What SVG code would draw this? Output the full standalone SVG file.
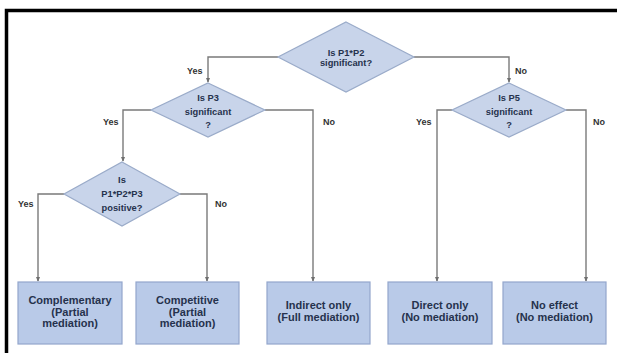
<svg xmlns="http://www.w3.org/2000/svg" width="617" height="353" viewBox="0 0 617 353">
  <defs>
    <marker id="arrow" viewBox="0 0 8 8" refX="7" refY="4" markerWidth="5" markerHeight="5" orient="auto" markerUnits="userSpaceOnUse">
      <path d="M0,0.5 L8,4 L0,7.5 Z" fill="#6f6f6f"/>
    </marker>
    <style>
      .frame { stroke: #000; stroke-width: 3.5; fill: none; }
      .decision { fill: #c8d4ea; stroke: #9aabc9; stroke-width: 1.2; }
      .outcome { fill: #b9cae8; stroke: #93a6cc; stroke-width: 1.2; }
      .link { fill: none; stroke: #7a7a7a; stroke-width: 1.4; }
      .dtext { font-family: "Liberation Sans", Arial, sans-serif; font-weight: bold; font-size: 9.3px; fill: #26324d; text-anchor: middle; }
      .btext { font-family: "Liberation Sans", Arial, sans-serif; font-weight: bold; font-size: 11px; fill: #26324d; text-anchor: middle; }
      .label { font-family: "Liberation Sans", Arial, sans-serif; font-weight: bold; font-size: 9px; fill: #333; }
    </style>
  </defs>

  <rect width="617" height="353" fill="#fff"/>
  <!-- frame edges (top and left) -->
  <path class="frame" d="M6.5,353 V10.5 H617"/>

  <!-- connectors -->
  <g id="connectors">
    <path class="link" d="M278,57 H208 V82" marker-end="url(#arrow)"/>
    <path class="link" d="M414,57 H509 V82" marker-end="url(#arrow)"/>
    <path class="link" d="M151,110 H123 V161" marker-end="url(#arrow)"/>
    <path class="link" d="M265,110 H313 V281" marker-end="url(#arrow)"/>
    <path class="link" d="M64,194 H38 V281" marker-end="url(#arrow)"/>
    <path class="link" d="M180,194 H207 V281" marker-end="url(#arrow)"/>
    <path class="link" d="M452,110 H437 V281" marker-end="url(#arrow)"/>
    <path class="link" d="M566,110 H586 V281" marker-end="url(#arrow)"/>
    <text class="label" x="187" y="74">Yes</text>
    <text class="label" x="515" y="74">No</text>
    <text class="label" x="103" y="125">Yes</text>
    <text class="label" x="323" y="125">No</text>
    <text class="label" x="18" y="207">Yes</text>
    <text class="label" x="215" y="207">No</text>
    <text class="label" x="416" y="125">Yes</text>
    <text class="label" x="593" y="125">No</text>
  </g>

  <!-- decisions -->
  <g id="q-p1p2">
    <polygon class="decision" points="346,22 414,57 346,92 278,57"/>
    <text class="dtext" x="346" y="55.5">Is P1*P2</text>
    <text class="dtext" x="346" y="66">significant?</text>
  </g>
  <g id="q-p3">
    <polygon class="decision" points="208,83 265,110 208,137 151,110"/>
    <text class="dtext" x="208" y="100.5">Is P3</text>
    <text class="dtext" x="208" y="115">significant</text>
    <text class="dtext" x="208" y="127.5">?</text>
  </g>
  <g id="q-p5">
    <polygon class="decision" points="509,83 566,110 509,137 452,110"/>
    <text class="dtext" x="509" y="100.5">Is P5</text>
    <text class="dtext" x="509" y="115">significant</text>
    <text class="dtext" x="509" y="127.5">?</text>
  </g>
  <g id="q-sign">
    <polygon class="decision" points="122,162 180,194 122,226 64,194"/>
    <text class="dtext" x="122" y="183">Is</text>
    <text class="dtext" x="122" y="197">P1*P2*P3</text>
    <text class="dtext" x="122" y="211">positive?</text>
  </g>

  <!-- outcomes -->
  <g id="complementary">
    <rect class="outcome" x="18" y="282" width="104" height="62"/>
    <text class="btext" x="70" y="304">Complementary</text>
    <text class="btext" x="70" y="315.5">(Partial</text>
    <text class="btext" x="70" y="326.5">mediation)</text>
  </g>
  <g id="competitive">
    <rect class="outcome" x="136" y="282" width="103" height="62"/>
    <text class="btext" x="187.5" y="304">Competitive</text>
    <text class="btext" x="187.5" y="315.5">(Partial</text>
    <text class="btext" x="187.5" y="326.5">mediation)</text>
  </g>
  <g id="indirect-only">
    <rect class="outcome" x="267" y="282" width="103" height="62"/>
    <text class="btext" x="318.5" y="308.5">Indirect only</text>
    <text class="btext" x="318.5" y="320.5">(Full mediation)</text>
  </g>
  <g id="direct-only">
    <rect class="outcome" x="388" y="282" width="104" height="62"/>
    <text class="btext" x="440" y="308.5">Direct only</text>
    <text class="btext" x="440" y="320.5">(No mediation)</text>
  </g>
  <g id="no-effect">
    <rect class="outcome" x="503" y="282" width="103" height="62"/>
    <text class="btext" x="554.5" y="308.5">No effect</text>
    <text class="btext" x="554.5" y="320.5">(No mediation)</text>
  </g>
</svg>
